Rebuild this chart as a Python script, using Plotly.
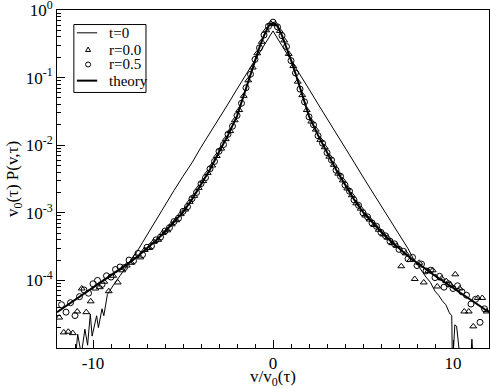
import plotly.graph_objects as go

# t=0 distribution (thin line)
v_t0 = [-11.2, -11.0, -10.85, -10.65, -10.45, -10.3, -10.15, -10.05, -9.8, -9.7,
        -9.5, -9.4, -9.2, -9.0, -8.75, -8.5, -8.25, -8.0, -7.75, -7.5, -7.25, -7.0,
        -6.5, -6.0, -5.5, -5.0, -4.5, -4.0, -3.5, -3.0, -2.5, -2.0, -1.5, -1.0, -0.5,
        0.0, 0.5, 1.0, 1.5, 2.0, 2.5, 3.0, 3.5, 4.0, 4.5, 5.0, 5.5, 6.0, 6.5, 7.0,
        7.25, 7.5, 7.8, 8.0, 8.25, 8.5, 8.75, 9.0, 9.2, 9.4, 9.6, 9.8, 9.93, 9.97,
        10.1, 10.2, 10.45, 10.95, 11.05, 11.15]
p_t0 = [4.0e-6, 6.0e-6, 1.6e-5, 8.0e-6, 1.9e-5, 1.1e-5, 3.2e-5, 1.5e-5, 3.0e-5, 2.0e-5,
        3.8e-5, 3.0e-5, 6.2e-5, 7.6e-5, 9.5e-5, 1.17e-4, 1.45e-4, 1.78e-4, 2.19e-4,
        2.82e-4, 3.63e-4, 4.68e-4, 7.94e-4, 1.29e-3, 2.14e-3, 3.47e-3, 5.50e-3,
        9.33e-3, 1.51e-2, 2.51e-2, 4.07e-2, 6.76e-2, 1.10e-1, 1.82e-1, 2.95e-1,
        4.90e-1, 2.95e-1, 1.82e-1, 1.10e-1, 6.76e-2, 4.07e-2, 2.51e-2, 1.51e-2,
        9.12e-3, 5.62e-3, 3.39e-3, 2.09e-3, 1.29e-3, 7.59e-4, 4.68e-4,
        3.72e-4, 2.95e-4, 2.09e-4, 1.74e-4, 1.38e-4, 1.12e-4, 9.33e-5, 6.92e-5,
        6.03e-5, 5.01e-5, 4.37e-5, 3.31e-5, 3.0e-5, 5.0e-6,
        2.2e-5, 2.1e-5, 5.0e-6, 5.0e-6, 1.35e-5, 5.0e-6]

# r=0.0 (triangles)
v_r00 = [-11.875, -11.625, -11.375, -11.125, -10.875, -10.625, -10.375, -10.125,
         -9.875, -9.625, -9.375, -9.125, -8.875, -8.625, -8.375, -8.125,
         -7.875, -7.625, -7.375, -7.125, -6.875, -6.625, -6.375, -6.125,
         -5.875, -5.625, -5.375, -5.125, -4.875, -4.625, -4.375, -4.125,
         -3.875, -3.625, -3.375, -3.125, -2.875, -2.625, -2.375, -2.125,
         -1.875, -1.625, -1.375, -1.125, -0.875, -0.625, -0.375, -0.125,
         0.125, 0.375, 0.625, 0.875, 1.125, 1.375, 1.625, 1.875,
         2.125, 2.375, 2.625, 2.875, 3.125, 3.375, 3.625, 3.875,
         4.125, 4.375, 4.625, 4.875, 5.125, 5.375, 5.625, 5.875,
         6.125, 6.375, 6.625, 6.875, 7.125, 7.375, 7.625, 7.875,
         8.125, 8.375, 8.625, 8.875, 9.125, 9.375, 9.625, 9.875,
         10.125, 10.375, 10.625, 10.875, 11.125, 11.375, 11.625, 11.875]
p_r00 = [2.82e-5, 1.70e-5, 1.74e-5, 1.66e-5, 3.47e-5, 7.59e-5, 3.39e-5, 4.90e-5,
         7.59e-5, 7.94e-5, 9.55e-5, 6.92e-5, 1.17e-4, 9.33e-5, 1.41e-4, 1.66e-4,
         1.82e-4, 2.29e-4, 2.19e-4, 2.82e-4, 3.02e-4, 3.72e-4, 3.98e-4, 5.01e-4,
         5.50e-4, 6.76e-4, 7.76e-4, 9.55e-4, 1.12e-3, 1.45e-3, 1.78e-3, 2.34e-3,
         2.95e-3, 3.89e-3, 5.01e-3, 6.92e-3, 8.91e-3, 1.23e-2, 1.62e-2, 2.34e-2,
         3.31e-2, 5.37e-2, 9.12e-2, 1.41e-1, 2.29e-1, 3.39e-1, 5.01e-1, 6.31e-1,
         6.17e-1, 4.90e-1, 3.55e-1, 2.24e-1, 1.48e-1, 8.71e-2, 5.50e-2, 3.31e-2,
         2.24e-2, 1.70e-2, 1.20e-2, 9.33e-3, 6.76e-3, 5.13e-3, 3.80e-3, 3.02e-3,
         2.29e-3, 1.82e-3, 1.38e-3, 1.15e-3, 9.12e-4, 7.94e-4, 6.61e-4, 5.62e-4,
         4.79e-4, 4.27e-4, 3.55e-4, 3.24e-4, 1.62e-4, 2.51e-4, 2.00e-4, 1.05e-4,
         1.82e-4, 9.33e-5, 1.38e-4, 1.41e-4, 8.13e-5, 1.07e-4, 9.77e-5, 8.51e-5,
         1.23e-4, 7.59e-5, 3.47e-5, 3.47e-5, 2.09e-5, 5.50e-5, 5.50e-5, 3.47e-5]

# r=0.5 (circles)
v_r05 = [-11.75, -11.5, -11.25, -11.0, -10.75, -10.5, -10.25, -10.0,
         -9.75, -9.5, -9.25, -9.0, -8.75, -8.5, -8.25, -8.0,
         -7.75, -7.5, -7.25, -7.0, -6.75, -6.5, -6.25, -6.0,
         -5.75, -5.5, -5.25, -5.0, -4.75, -4.5, -4.25, -4.0,
         -3.75, -3.5, -3.25, -3.0, -2.75, -2.5, -2.25, -2.0,
         -1.75, -1.5, -1.25, -1.0, -0.75, -0.5, -0.25, 0.0,
         0.25, 0.5, 0.75, 1.0, 1.25, 1.5, 1.75, 2.0,
         2.25, 2.5, 2.75, 3.0, 3.25, 3.5, 3.75, 4.0,
         4.25, 4.5, 4.75, 5.0, 5.25, 5.5, 5.75, 6.0,
         6.25, 6.5, 6.75, 7.0, 7.25, 7.5, 7.75, 8.0,
         8.25, 8.5, 8.75, 9.0, 9.25, 9.5, 9.75, 10.0,
         10.25, 10.5, 10.75, 11.0, 11.25, 11.5, 11.75]
p_r05 = [4.37e-5, 3.39e-5, 4.68e-5, 3.02e-5, 5.75e-5, 7.24e-5, 6.46e-5, 8.91e-5,
         1.00e-4, 8.71e-5, 1.17e-4, 1.12e-4, 1.45e-4, 1.58e-4, 1.55e-4, 2.00e-4,
         1.95e-4, 2.51e-4, 2.40e-4, 3.09e-4, 3.24e-4, 3.98e-4, 4.37e-4, 5.37e-4,
         6.03e-4, 7.41e-4, 8.32e-4, 1.05e-3, 1.23e-3, 1.62e-3, 2.00e-3, 2.69e-3,
         3.31e-3, 4.47e-3, 5.75e-3, 8.13e-3, 1.02e-2, 1.45e-2, 1.91e-2, 2.75e-2,
         4.17e-2, 7.08e-2, 1.12e-1, 1.86e-1, 2.75e-1, 4.27e-1, 5.75e-1, 6.61e-1,
         5.62e-1, 4.17e-1, 2.88e-1, 1.78e-1, 1.17e-1, 6.76e-2, 4.37e-2, 2.63e-2,
         2.00e-2, 1.38e-2, 1.07e-2, 7.76e-3, 6.03e-3, 4.27e-3, 3.47e-3, 2.57e-3,
         2.09e-3, 1.55e-3, 1.29e-3, 1.00e-3, 8.71e-4, 7.08e-4, 6.31e-4, 5.13e-4,
         4.57e-4, 3.80e-4, 3.47e-4, 2.88e-4, 2.69e-4, 2.09e-4, 2.19e-4, 1.66e-4,
         1.74e-4, 1.38e-4, 1.41e-4, 1.10e-4, 1.15e-4, 7.94e-5, 8.91e-5, 7.59e-5,
         8.32e-5, 6.76e-5, 6.03e-5, 4.47e-5, 5.25e-5, 2.40e-5, 3.80e-5]

# theory curve
v_th = [-12.0, -11.5, -11.0, -10.5, -10.0, -9.5, -9.0, -8.5, -8.0, -7.5, -7.0, -6.5,
        -6.0, -5.5, -5.0, -4.5, -4.0, -3.5, -3.0, -2.5, -2.0, -1.75, -1.5, -1.25,
        -1.0, -0.75, -0.5, -0.25, 0.0, 0.25, 0.5, 0.75, 1.0, 1.25, 1.5, 1.75, 2.0,
        2.5, 3.0, 3.5, 4.0, 4.5, 5.0, 5.5, 6.0, 6.5, 7.0, 7.5, 8.0, 8.5, 9.0, 9.5,
        10.0, 10.5, 11.0, 11.5, 12.0]
p_th = [3.39e-5, 4.17e-5, 5.13e-5, 6.31e-5, 7.76e-5, 9.55e-5, 1.17e-4, 1.45e-4,
        1.82e-4, 2.29e-4, 2.95e-4, 3.89e-4, 5.25e-4, 7.24e-4, 1.02e-3, 1.58e-3,
        2.63e-3, 4.37e-3, 7.94e-3, 1.41e-2, 2.69e-2, 4.27e-2, 6.92e-2, 1.15e-1,
        1.82e-1, 2.82e-1, 4.17e-1, 5.75e-1, 6.46e-1, 5.75e-1, 4.17e-1, 2.82e-1,
        1.82e-1, 1.15e-1, 6.92e-2, 4.27e-2, 2.69e-2, 1.41e-2, 7.94e-3, 4.37e-3,
        2.63e-3, 1.58e-3, 1.02e-3, 7.24e-4, 5.25e-4, 3.89e-4, 2.95e-4, 2.29e-4,
        1.82e-4, 1.45e-4, 1.17e-4, 9.55e-5, 7.76e-5, 6.31e-5, 5.13e-5, 4.17e-5,
        3.39e-5]

x_tick_vals = [-10, 0, 10]
x_tick_text = ["-10", "0", "10"]
y_tick_vals = [1, 0.1, 0.01, 0.001, 0.0001]
y_tick_text = ["10<sup>0</sup>", "10<sup>-1</sup>", "10<sup>-2</sup>",
               "10<sup>-3</sup>", "10<sup>-4</sup>"]
legend_labels = ["t=0", "r=0.0", "r=0.5", "theory"]

SERIF = "Liberation Serif, DejaVu Serif, serif"

fig = go.Figure()
fig.add_trace(go.Scatter(x=v_t0, y=p_t0, mode="lines", name=legend_labels[0],
                         line=dict(color="black", width=1)))
fig.add_trace(go.Scatter(x=v_r00, y=p_r00, mode="markers", name=legend_labels[1],
                         marker=dict(symbol="triangle-up-open", size=6,
                                     color="black", line=dict(width=1, color="black"))))
fig.add_trace(go.Scatter(x=v_r05, y=p_r05, mode="markers", name=legend_labels[2],
                         marker=dict(symbol="circle-open", size=6,
                                     color="black", line=dict(width=1, color="black"))))
fig.add_trace(go.Scatter(x=v_th, y=p_th, mode="lines", name=legend_labels[3],
                         line=dict(color="black", width=2)))

fig.update_xaxes(
    range=[-12, 12], automargin=False, ticklabeloverflow="allow",
    tickmode="array", tickvals=x_tick_vals, ticktext=x_tick_text,
    ticks="inside", ticklen=8, tickwidth=1, tickcolor="black",
    minor=dict(dtick=1, tick0=0, ticks="inside", ticklen=4, tickcolor="black", showgrid=False),
    showline=True, linecolor="black", linewidth=1, mirror=True,
    showgrid=False, zeroline=False,
    tickfont=dict(family=SERIF, size=17, color="black"),
    title=dict(text="v/v<sub>0</sub>(τ)", font=dict(family=SERIF, size=17, color="black"),
               standoff=1),
)
fig.update_yaxes(
    type="log", range=[-5, 0], automargin=False, ticklabeloverflow="allow",
    tickmode="array", tickvals=y_tick_vals, ticktext=y_tick_text,
    ticks="inside", ticklen=8, tickwidth=1, tickcolor="black",
    minor=dict(dtick="D1", ticks="inside", ticklen=4, tickcolor="black", showgrid=False),
    showline=True, linecolor="black", linewidth=1, mirror=True,
    showgrid=False, zeroline=False,
    tickfont=dict(family=SERIF, size=17, color="black"),
    title=dict(text="v<sub>0</sub>(τ) P(v,τ)", font=dict(family=SERIF, size=17, color="black"),
               standoff=2),
)

# legend drawn by hand so the rows can sit as tight as in the original
rows_y = [0.9325, 0.883, 0.8388, 0.791]
shapes = [
    dict(type="rect", xref="paper", yref="paper", x0=0.039, x1=0.206, y0=0.756, y1=0.957,
         line=dict(color="black", width=1), fillcolor="white"),
    dict(type="line", xref="paper", yref="paper", x0=0.046, x1=0.093, y0=rows_y[0], y1=rows_y[0],
         line=dict(color="black", width=1)),
    dict(type="path", xref="paper", yref="paper", xsizemode="pixel", ysizemode="pixel",
         xanchor=0.072, yanchor=rows_y[1], path="M -2.5 -2 L 2.5 -2 L 0 2.5 Z",
         line=dict(color="black", width=1)),
    dict(type="circle", xref="paper", yref="paper", xsizemode="pixel", ysizemode="pixel",
         xanchor=0.072, yanchor=rows_y[2], x0=-2.5, x1=2.5, y0=-2.5, y1=2.5,
         line=dict(color="black", width=1)),
    dict(type="line", xref="paper", yref="paper", x0=0.046, x1=0.093, y0=rows_y[3], y1=rows_y[3],
         line=dict(color="black", width=2)),
]
annotations = [
    dict(text=lab, xref="paper", yref="paper", x=0.116, y=yy, xanchor="left", yanchor="middle",
         showarrow=False, font=dict(family=SERIF, size=15, color="black"))
    for lab, yy in zip(legend_labels, rows_y)
]

fig.update_layout(
    width=491, height=389,
    margin=dict(l=57, r=2, t=10, b=41),
    plot_bgcolor="white", paper_bgcolor="white",
    showlegend=False, hovermode=False,
    shapes=shapes, annotations=annotations,
)

# drop the page's default body margin so the figure sits at the window corner
fig.write_html("out.html", config={"displayModeBar": False},
               post_script="document.body.style.margin = '0';")
